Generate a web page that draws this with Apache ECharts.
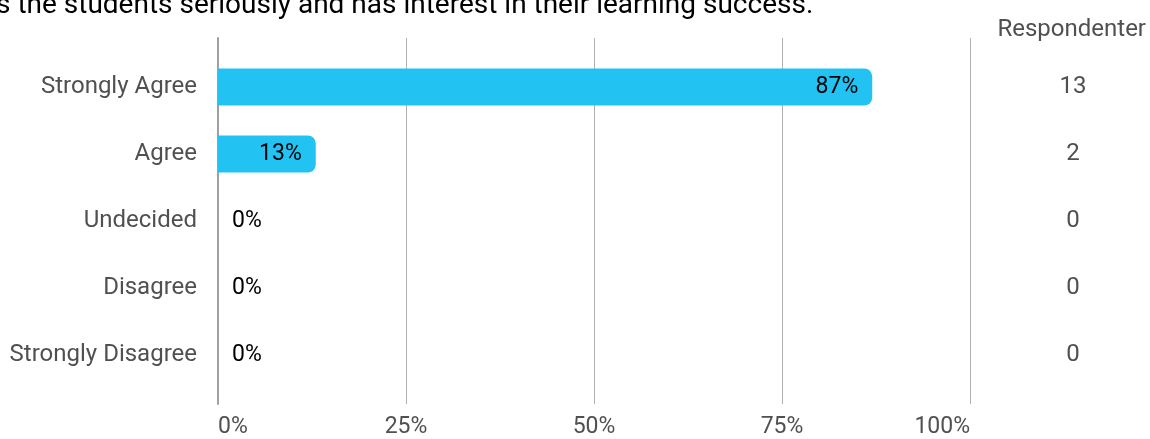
<!DOCTYPE html>
<html><head><meta charset="utf-8">
<script src="https://cdn.jsdelivr.net/npm/echarts@6/dist/echarts.min.js"></script>
<style>html,body{margin:0;padding:0;background:#fff}#c{width:1150px;height:439px}</style>
</head><body><div id="c"></div>
<script>
const titleText = "s the students seriously and has interest in their learning success.";
const categories = ["Strongly Agree", "Agree", "Undecided", "Disagree", "Strongly Disagree"];
const percents = [87, 13, 0, 0, 0];
const counts = [13, 2, 0, 0, 0];
const xTicks = [0, 25, 50, 75, 100];
const respHeader = "Respondenter";

const font = "Roboto";
const gray = '#505050';
const chart = echarts.init(document.getElementById('c'), null, {renderer: 'canvas'});
const barData = percents.map(v => ({
  value: v,
  label: v > 0
    ? {position: 'insideRight', distance: 14}
    : {position: 'right', distance: 14}
}));
chart.setOption({
  animation: false,
  textStyle: {fontFamily: font},
  title: [
    {text: titleText, left: -9, top: -13,
     textStyle: {fontFamily: font, fontSize: 28, fontWeight: 'normal', color: '#000'}},
    {text: respHeader, right: -1, top: 13,
     textStyle: {fontFamily: font, fontSize: 24, fontWeight: 'normal', color: gray}}
  ],
  grid: [
    {left: 218, width: 752, top: 38, bottom: 35},
    {left: 218, width: 752, top: 53.5, height: 335}
  ],
  xAxis: [
    {gridIndex: 0, type: 'value', min: 0, max: 100, interval: 25,
     axisLine: {show: false}, axisTick: {show: false},
     splitLine: {show: true, lineStyle: {color: '#b0b0b0', width: 1}},
     axisLabel: {show: true, margin: 12, color: gray, fontSize: 23, fontFamily: font,
       alignMinLabel: 'left', alignMaxLabel: 'right',
       formatter: v => xTicks.includes(v) ? v + '%' : ''}},
    {gridIndex: 1, type: 'value', min: 0, max: 100, interval: 25, show: false}
  ],
  yAxis: [
    {gridIndex: 0, type: 'category', data: [''], show: true,
     axisLine: {show: true, lineStyle: {color: '#a0a0a0', width: 2}},
     axisTick: {show: false}, axisLabel: {show: false}, splitLine: {show: false}},
    {gridIndex: 1, type: 'category', data: categories, inverse: true,
     axisLine: {show: false}, axisTick: {show: false},
     axisLabel: {margin: 21, color: gray, fontSize: 24, fontFamily: font, padding: [3, 0, 0, 0]}},
    {gridIndex: 1, type: 'category', data: categories, inverse: true, position: 'right',
     axisLine: {show: false}, axisTick: {show: false},
     axisLabel: {margin: 103, align: 'center', color: gray, fontSize: 24, fontFamily: font,
       padding: [3, 0, 0, 0], formatter: (v, i) => String(counts[i])}}
  ],
  series: [{
    type: 'bar', xAxisIndex: 1, yAxisIndex: 1,
    data: barData, barWidth: 37,
    itemStyle: {color: '#22c3f3', borderRadius: [0, 8, 8, 0]},
    label: {show: true, color: '#000', fontSize: 23, fontFamily: font, formatter: p => p.value + '%'}
  }]
});
</script></body></html>
